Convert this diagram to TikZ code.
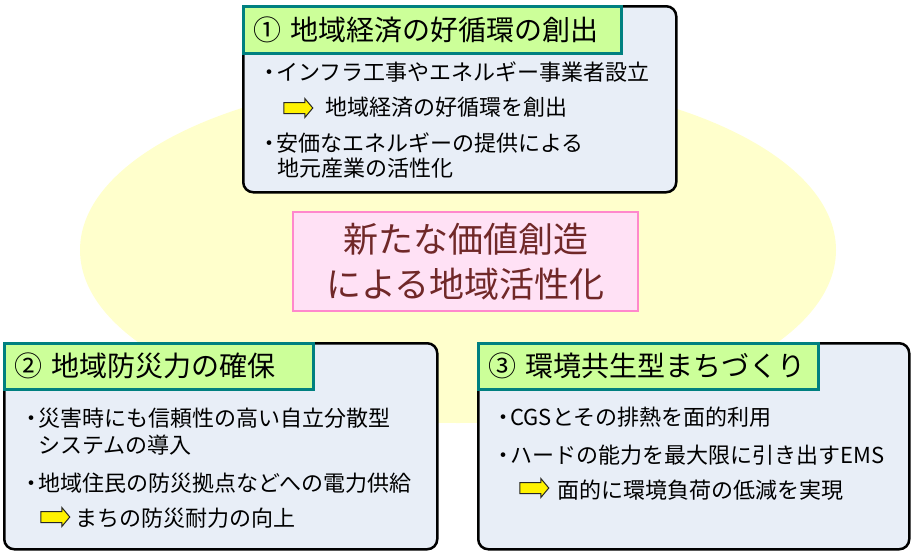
\documentclass[tikz,border=0pt]{standalone}
\usepackage{fontspec}
\setmainfont{Noto Sans CJK JP}
\usetikzlibrary{shapes.geometric,shapes.arrows}

\definecolor{ovalfill}{RGB}{255,255,204}
\definecolor{bodyfill}{RGB}{232,238,247}
\definecolor{headfill}{RGB}{204,255,153}
\definecolor{headline}{RGB}{0,128,128}
\definecolor{corefill}{RGB}{255,225,245}
\definecolor{coreline}{RGB}{255,136,204}
\definecolor{coretext}{RGB}{112,40,40}

\newcommand{\bul}{\makebox[0.6em][c]{・}}

\tikzset{
  bodybox/.style={draw=black, line width=2.5pt, rounded corners=10pt, fill=bodyfill, anchor=north west},
  headbox/.style={draw=headline, line width=2.5pt, fill=headfill, anchor=north west, inner xsep=10pt, inner ysep=0pt, minimum height=47pt, align=left, font=\fontsize{28}{32}\selectfont},
  linetext/.style={anchor=west, inner sep=0pt, font=\fontsize{22}{26}\selectfont},
  yarrow/.style={single arrow, draw=black!85, line width=1pt, fill=yellow, inner xsep=0pt, inner ysep=5pt, single arrow head extend=4pt, single arrow tip angle=100, minimum height=29pt, minimum width=18pt},
  corebox/.style={draw=coreline, line width=1.5pt, fill=corefill, minimum width=345pt, minimum height=99pt, inner sep=0pt, align=center, text=coretext, font=\fontsize{35}{45}\selectfont}
}

\begin{document}
\begin{tikzpicture}[x=1pt, y=-1pt]
    \useasboundingbox (0,0) rectangle (911,552);
    % background oval and centre
    \node[ellipse, fill=ovalfill, inner sep=0pt, minimum width=756pt, minimum height=346pt] (oval) at (458,250) {};
    \node[corebox] (core) at (465.5,261.5) {新たな価値創造\\による地域活性化};

    % (1) top
    \node[bodybox, minimum width=433pt, minimum height=186pt] (box1) at (242,5) {};
    \node[headbox, text width=358pt] (head1) at (242,5) {① 地域経済の好循環の創出};
    \node[linetext] (t1a) at (263,72) {\bul インフラ工事やエネルギー事業者設立};
    \node[yarrow] (a1) at (296,108) {};
    \node[linetext] (t1b) at (325,107) {地域経済の好循環を創出};
    \node[linetext] (t1c) at (263,143) {\bul 安価なエネルギーの提供による};
    \node[linetext] (t1d) at (277,168) {地元産業の活性化};

    % (2) bottom left
    \node[bodybox, minimum width=433pt, minimum height=206pt] (box2) at (3,342) {};
    \node[headbox, text width=289pt, minimum height=46pt] (head2) at (3,342) {② 地域防災力の確保};
    \node[linetext] (t2a) at (25,418) {\bul 災害時にも信頼性の高い自立分散型};
    \node[linetext] (t2b) at (38,445) {システムの導入};
    \node[linetext] (t2c) at (25,483) {\bul 地域住民の防災拠点などへの電力供給};
    \node[yarrow] (a2) at (53,517) {};
    \node[linetext] (t2d) at (75,518) {まちの防災耐力の向上};

    % (3) bottom right
    \node[bodybox, minimum width=431pt, minimum height=206pt] (box3) at (477,342) {};
    \node[headbox, text width=320pt, minimum height=46pt] (head3) at (477,342) {③ 環境共生型まちづくり};
    \node[linetext] (t3a) at (497,417) {\bul CGSとその排熱を面的利用};
    \node[linetext] (t3b) at (497,455) {\bul ハードの能力を最大限に引き出すEMS};
    \node[yarrow] (a3) at (532,488) {};
    \node[linetext] (t3c) at (557,490) {面的に環境負荷の低減を実現};
\end{tikzpicture}
\end{document}
